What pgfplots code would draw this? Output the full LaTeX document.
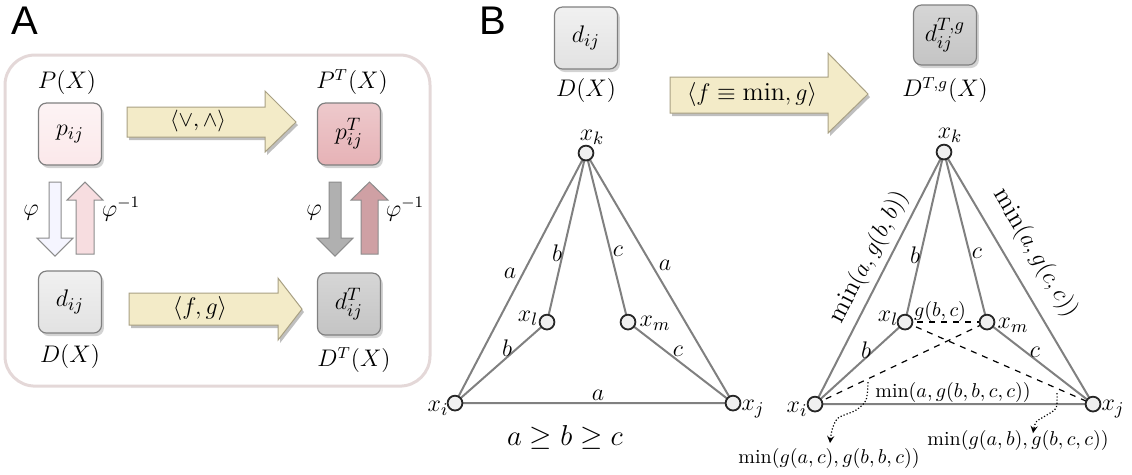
\documentclass[border=0pt]{standalone}
\usepackage{fontspec}
\usepackage{pgfplots}
\pgfplotsset{compat=1.18}
\usetikzlibrary{shadows}
\newfontfamily\sflab{Liberation Sans}
\definecolor{edgec}{HTML}{808080}
\definecolor{cream}{HTML}{F3EBC8}
\definecolor{creamedge}{HTML}{A8A083}
\definecolor{pinkA}{HTML}{FBE8EA}
\definecolor{pinkB}{HTML}{E6B2B6}
\definecolor{grayA}{HTML}{E2E2E2}
\definecolor{grayB}{HTML}{C4C4C4}
\definecolor{frame}{HTML}{E4D8D8}
\newcommand{\fs}[1]{\fontsize{#1}{#1}\selectfont}
\tikzset{
  box/.style={draw=black!50, line width=0.6pt, rounded corners=4pt, minimum width=31.5pt, minimum height=31pt, inner sep=0pt,
    drop shadow={shadow xshift=1.2pt, shadow yshift=-1.5pt, opacity=0.35}, font=\fs{13}},
  lab/.style={font=\fs{11.5}, inner sep=0pt},
  el/.style={font=\fs{13}, inner sep=0pt},
  sm/.style={font=\fs{10}, inner sep=0pt}
}
\begin{document}
\begin{tikzpicture}
\begin{axis}[width=566pt,height=237pt,scale only axis,hide axis,
  xmin=0,xmax=1132,ymin=0,ymax=474,y dir=reverse,clip=false]
\path (axis cs:0,0) -- (axis cs:1132,474);
% ---------- Panel A ----------
\node[font=\sflab\fs{20}, inner sep=0pt] at (axis cs:25,21) {A};
\draw[frame, line width=1.5pt, rounded corners=15pt] (axis cs:5,55) rectangle (axis cs:430,386);
% boxes
\node[box, top color=pinkA!50!white, bottom color=pinkA] at (axis cs:70,134) {$p_{ij}$};
\node[box, top color=pinkB!70!white, bottom color=pinkB] at (axis cs:349,134) {$p^{T}_{ij}$};
\node[box, top color=grayA!50!white, bottom color=grayA] at (axis cs:70,302) {$d_{ij}$};
\node[box, top color=grayB!70!white, bottom color=grayB] at (axis cs:349,304) {$d^{T}_{ij}$};
\node[lab] at (axis cs:67,82) {$P(X)$};
\node[lab] at (axis cs:352,82) {$P^{T}(X)$};
\node[lab] at (axis cs:70,356) {$D(X)$};
\node[lab] at (axis cs:354,360) {$D^{T}(X)$};
% horizontal arrows (shadow + arrow)
\addplot[fill=black, opacity=0.25, draw=none] coordinates {(129,110)(267,110)(267,94)(298,125)(267,155)(267,140)(129,140)} -- cycle;
\addplot[fill=cream, draw=creamedge, line width=0.5pt] coordinates {(127,107)(265,107)(265,91)(296,122)(265,152)(265,137)(127,137)} -- cycle;
\node[font=\fs{11}, inner sep=0pt] at (axis cs:198,121) {$\langle\vee,\wedge\rangle$};
\addplot[fill=black, opacity=0.25, draw=none] coordinates {(131,296)(280,296)(280,281)(304,312)(280,343)(280,328)(131,328)} -- cycle;
\addplot[fill=cream, draw=creamedge, line width=0.5pt] coordinates {(129,293)(278,293)(278,278)(302,309)(278,340)(278,325)(129,325)} -- cycle;
\node[font=\fs{12}, inner sep=0pt] at (axis cs:200,308) {$\langle f,g\rangle$};
% vertical arrows
\addplot[fill=blue!4!white, draw=black!45, line width=0.5pt] coordinates {(49,182)(61,182)(61,238)(73,238)(55,256)(37,238)(49,238)} -- cycle;
\addplot[fill=pinkA!80!pinkB, draw=black!45, line width=0.5pt] coordinates {(76,254)(94,254)(94,200)(103,200)(85,182)(67,200)(76,200)} -- cycle;
\addplot[fill=grayB!90!black, draw=black!45, line width=0.5pt] coordinates {(329,182)(341,182)(341,238)(353,238)(335,256)(317,238)(329,238)} -- cycle;
\addplot[fill=pinkB!90!black, draw=black!45, line width=0.5pt] coordinates {(361,254)(378,254)(378,200)(388,200)(369.5,182)(351,200)(361,200)} -- cycle;
\node[lab] at (axis cs:31,213) {$\varphi$};
\node[lab] at (axis cs:121,209) {$\varphi^{-1}$};
\node[lab] at (axis cs:314,213) {$\varphi$};
\node[lab] at (axis cs:405,209) {$\varphi^{-1}$};
% ---------- Panel B ----------
\node[font=\sflab\fs{20}, inner sep=0pt] at (axis cs:493,21) {B};
\node[box, top color=grayA!50!white, bottom color=grayA] at (axis cs:586,38) {$d_{ij}$};
\node[box, top color=grayB!70!white, bottom color=grayB, minimum height=30pt] at (axis cs:945,35) {$d^{T,g}_{ij}$};
\node[lab] at (axis cs:586,90) {$D(X)$};
\node[lab] at (axis cs:945,90) {$D^{T,g}(X)$};
\addplot[fill=black, opacity=0.25, draw=none] coordinates {(672,80)(830,80)(830,56)(870,97)(830,136)(830,116)(672,116)} -- cycle;
\addplot[fill=cream, draw=creamedge, line width=0.5pt] coordinates {(670,77)(828,77)(828,53)(868,94)(828,133)(828,113)(670,113)} -- cycle;
\node[font=\fs{13}, inner sep=0pt] at (axis cs:752,94) {$\langle f\equiv\min,g\rangle$};
% left triangle edges
\addplot[edgec, line width=1pt] coordinates {(455,403)(586,153)(547,322)(455,403)(733,403)(586,153)(628,322)(733,403)};
\addplot[only marks, mark=*, mark size=3.7pt, mark options={draw=black!85, line width=0.9pt, fill=gray!12}]
  coordinates {(586,153)(455,403)(733,403)(547,322)(628,322)};
\node[el] at (axis cs:592,137) {$x_k$};
\node[el] at (axis cs:528,318) {$x_l$};
\node[el] at (axis cs:655,323) {$x_m$};
\node[el] at (axis cs:438,408) {$x_i$};
\node[el] at (axis cs:753,409) {$x_j$};
\node[el] at (axis cs:510,273) {$a$};
\node[el] at (axis cs:557,253) {$b$};
\node[el] at (axis cs:618,251) {$c$};
\node[el] at (axis cs:665,265) {$a$};
\node[el] at (axis cs:507,348) {$b$};
\node[el] at (axis cs:678,351) {$c$};
\node[el] at (axis cs:598,395) {$a$};
\node[font=\fs{15.5}, inner sep=0pt] at (axis cs:565,437) {$a\geq b\geq c$};
% right triangle edges
\addplot[black, line width=0.6pt, dashed] coordinates {(905,322)(987,322)};
\addplot[black, line width=0.6pt, dashed] coordinates {(905,322)(1093,404)};
\addplot[black, line width=0.6pt, dashed] coordinates {(815,404)(987,322)};
\addplot[edgec, line width=1pt] coordinates {(815,404)(944,152)(905,322)(815,404)(1093,404)(944,152)(987,322)(1093,404)};
\addplot[only marks, mark=*, mark size=3.7pt, mark options={draw=black!85, line width=0.9pt, fill=gray!12}]
  coordinates {(944,152)(815,404)(1093,404)(905,322)(987,322)};
\node[el] at (axis cs:950,135) {$x_k$};
\node[el] at (axis cs:888,318) {$x_l$};
\node[el] at (axis cs:1013,325) {$x_m$};
\node[el] at (axis cs:797,409) {$x_i$};
\node[el] at (axis cs:1113,409) {$x_j$};
\node[el] at (axis cs:915,255) {$b$};
\node[el] at (axis cs:977,253) {$c$};
\node[el] at (axis cs:866,350) {$b$};
\node[el] at (axis cs:1035,352) {$c$};
\node[font=\fs{13}, inner sep=0pt, rotate=62.9] at (axis cs:869,257) {$\min(a,g(b,b))$};
\node[font=\fs{13}, inner sep=0pt, rotate=-59.4] at (axis cs:1035,253) {$\min(a,g(c,c))$};
\node[sm] at (axis cs:940,311) {$g(b,c)$};
\node[sm] at (axis cs:953,392) {$\min(a,g(b,b,c,c))$};
\node[sm] at (axis cs:1018,440) {$\min(g(a,b),g(b,c,c))$};
\node[sm] at (axis cs:829,458) {$\min(g(a,c),g(b,b,c))$};
\addplot[smooth, densely dotted, black, line width=0.6pt, -stealth] coordinates {(868,382)(866,400)(856,410)(838,418)(832,430)(830,443)};
\addplot[smooth, densely dotted, black, line width=0.6pt, -stealth] coordinates {(1057,393)(1056,408)(1045,416)(1036,422)(1033,433)};
\end{axis}
\end{tikzpicture}
\end{document}
